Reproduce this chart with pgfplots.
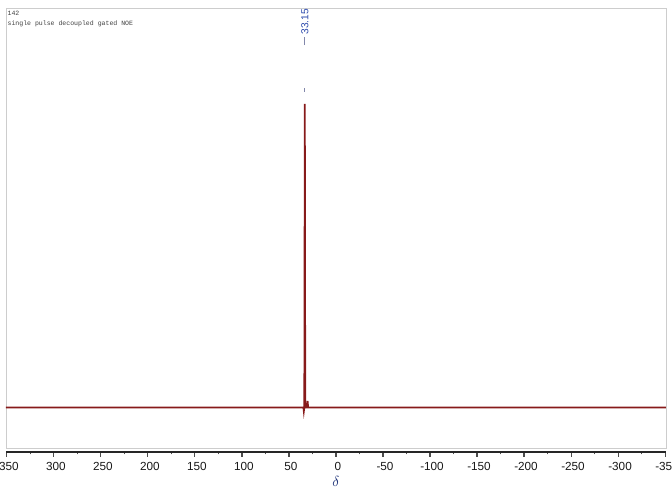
\documentclass[border=0pt]{standalone}
\usepackage{pgfplots}
\pgfplotsset{compat=1.18}
\usepackage{fontspec}
\setmainfont{Liberation Sans}
\newfontfamily\monofont{Liberation Mono}
\definecolor{specred}{RGB}{135,26,26}
\definecolor{labblue}{RGB}{40,70,170}
\definecolor{leadgray}{RGB}{130,135,170}
\definecolor{framegray}{RGB}{205,205,205}
\begin{document}
\begin{tikzpicture}
\pgfresetboundingbox
\useasboundingbox (-4.5pt,-35.25pt) rectangle (499.5pt,336pt);
\begin{axis}[
  at={(0,0)}, anchor=south west,
  scale only axis, width=495pt, height=330pt,
  x dir=reverse, xmin=-351, xmax=351,
  ymin=-0.133, ymax=1.316,
  axis line style={framegray, line width=0.7pt},
  xtick=\empty, ytick=\empty,
  clip=true,
]
\addplot[specred, line width=1.3pt] coordinates {
(351,0) (200,0) (100,0) (36,0) (34.6,0) (34.2,-0.012) (33.7,0) (33.15,1.0) (32.7,0) (31,0) (30.2,0.022) (29.6,0) (0,0) (-100,0) (-200,0) (-351,0)
};
\draw[leadgray, line width=1pt] (axis cs:33.15,1.194) -- (axis cs:33.15,1.222);
\draw[leadgray, line width=1pt] (axis cs:33.15,1.040) -- (axis cs:33.15,1.053);
\node[labblue, rotate=90, anchor=west, font=\fontsize{7.6}{8}\selectfont, inner sep=0pt] at (axis cs:33.15,1.228) {33.15};
\node[anchor=north west, align=left, inner sep=0pt, text=black!75, font=\monofont\fontsize{4.9}{7.4}\selectfont] at (rel axis cs:0,1) [xshift=1pt, yshift=-2pt] {142\\single pulse decoupled gated NOE};
\end{axis}
\begin{axis}[
  at={(0,-3pt)}, anchor=south west,
  scale only axis, width=495pt, height=10pt,
  x dir=reverse, xmin=-351, xmax=351,
  ymin=0, ymax=1,
  axis x line*=bottom, axis y line=none,
  x axis line style={-, black!85, line width=0.8pt},
  xtick={-350,-300,...,350},
  minor x tick num=1,
  tick align=outside,
  major tick length=3.5pt, minor tick length=1.8pt,
  tick style={black!70, line width=0.8pt},
  every x tick label/.append style={font=\fontsize{8.8}{10}\selectfont, black!90},
  /pgf/number format/assume math mode=true,
  xticklabel style={yshift=-0.5pt, xshift=1.5pt},
  xlabel={\textcolor{labblue!70!black}{$\delta$}},
  xlabel style={font=\fontsize{11}{12}\selectfont, yshift=2pt},
]
\addplot[draw=none] coordinates {(0,0)};
\end{axis}
\end{tikzpicture}
\end{document}
